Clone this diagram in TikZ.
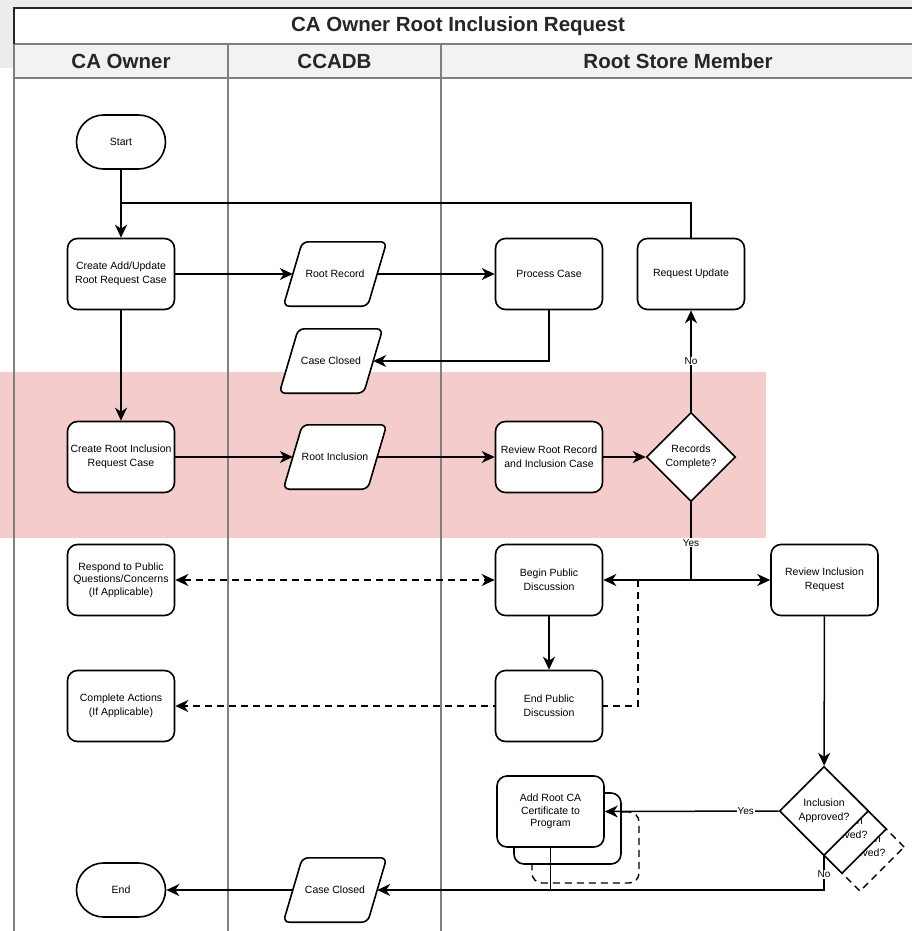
\documentclass[tikz,border=0pt]{standalone}
\usepackage{fontspec}
\setmainfont{Liberation Sans}
\usetikzlibrary{arrows.meta,shapes.geometric,calc}
\pgfdeclarelayer{bg}
\pgfsetlayers{bg,main}
\definecolor{pinkband}{HTML}{F4CCCC}
\definecolor{lanegrey}{HTML}{7F7F7F}
\definecolor{hdrgrey}{HTML}{F2F2F2}
\definecolor{shotgrey}{HTML}{ECECEC}
\newcommand\nodefont{\fontsize{10.5}{14.3}\selectfont}
\newcommand\tightfont{\fontsize{10.5}{12.7}\selectfont}
\newcommand\labfont{\fontsize{10}{11}\selectfont}
\newcommand\hdrfont{\fontsize{20.5}{23}\selectfont\bfseries}
% rounded parallelogram drawn around a named (invisible) node
\newcommand\ioshape[1]{%
  \draw[line width=1.6pt, rounded corners=6pt, fill=white]
    ($(#1.south west)+(-9.5,0)$) -- ($(#1.north west)+(9.5,0)$) --
    ($(#1.north east)+(9.5,0)$) -- ($(#1.south east)+(-9.5,0)$) -- cycle;}
\begin{document}
\begin{tikzpicture}[x=1pt,y=-1pt,
  box/.style={draw, line width=1.6pt, rounded corners=10pt, fill=white,
    minimum width=107pt, minimum height=71pt, align=center, font=\nodefont, inner sep=1pt},
  tight/.style={font=\tightfont},
  term/.style={draw, line width=1.6pt, rounded corners=27pt, fill=white,
    minimum width=89pt, minimum height=54pt, font=\nodefont},
  dia/.style={draw, line width=1.6pt, diamond, aspect=1, fill=white,
    minimum width=89pt, minimum height=89pt, inner sep=0pt, align=center, font=\nodefont},
  io/.style={minimum width=84pt, minimum height=64pt, inner sep=0pt, font=\nodefont},
  conn/.style={line width=1.5pt, -{Stealth[length=13pt,width=12pt,inset=4pt]}},
  plain/.style={line width=1.5pt},
  dashedconn/.style={line width=1.4pt, dash pattern=on 7pt off 5pt,
    -{Stealth[length=13pt,width=12pt,inset=4pt]}},
  dashedboth/.style={line width=1.4pt, dash pattern=on 7pt off 5pt,
    {Stealth[length=13pt,width=12pt,inset=4pt]}-{Stealth[length=13pt,width=12pt,inset=4pt]}},
  lab/.style={fill=white, font=\labfont, inner sep=1pt},
  lane/.style={draw=lanegrey, line width=1.5pt},
  hdr/.style={font=\hdrfont, text=black!85},
]
\useasboundingbox (0,0) rectangle (912,931);

\begin{pgfonlayer}{bg}
  % screenshot margins
  \fill[shotgrey] (0,0) rectangle (912,8);
  \fill[shotgrey] (0,0) rectangle (14,68);
  % title and header rows
  \fill[white] (14,8) rectangle (930,44);
  \fill[hdrgrey] (14,44) rectangle (930,78);
  % highlight band
  \fill[pinkband] (0,372) rectangle (766,538);
  % lanes
  \draw[lane] (14,44) -- (930,44);
  \draw[lane] (14,78) -- (930,78);
  \draw[lane] (14,44) -- (14,935);
  \draw[lane] (228,44) -- (228,935);
  \draw[lane] (441,44) -- (441,935);
  \draw[line width=1.5pt, black!85] (930,8) -- (14,8) -- (14,44);
\end{pgfonlayer}

% headers
\node[hdr] (title) at (458,26) {CA Owner Root Inclusion Request};
\node[hdr] (h1) at (121,61) {CA Owner};
\node[hdr] (h2) at (334.5,61) {CCADB};
\node[hdr] (h3) at (678,61) {Root Store Member};

% nodes
\node[term] (start) at (121,142) {Start};
\node[box] (cadd) at (121,274) {Create Add/Update\\Root Request Case};
\node[io] (rrec) at (335,274) {Root Record};
\node[box] (proc) at (549,274) {Process Case};
\node[box] (requ) at (691,274) {Request Update};
\node[io] (cc1) at (331,361) {Case Closed};
\node[box] (cincl) at (121,457) {Create Root Inclusion\\Request Case};
\node[io] (rincl) at (335,457) {Root Inclusion};
\node[box] (revrr) at (549,457) {Review Root Record\\and Inclusion Case};
\node[dia] (recc) at (691,457) {Records\\Complete?};
\node[box, tight] (resp) at (121,580) {Respond to Public\\Questions/Concerns\\(If Applicable)};
\node[box] (bpub) at (549,580) {Begin Public\\Discussion};
\node[box] (revinc) at (824.5,580) {Review Inclusion\\Request};
\node[box] (compl) at (121,706) {Complete Actions\\(If Applicable)};
\node[box] (epub) at (549,706) {End Public\\Discussion};

% stacked "Add Root CA" shapes
\node[box, dash pattern=on 7pt off 5pt, line width=1.4pt] (add3) at (585.5,847.5) {};
\node[box] (add2) at (567.5,828.5) {};
\node[box, tight] (add) at (550.5,811.5) {Add Root CA\\Certificate to\\Program};

% stacked decision shapes
\node[dia, dash pattern=on 7pt off 5pt, line width=1.4pt] (incap3) at (860,847) {Inclusion\\Approved?};
\node[dia] (incap2) at (842,829) {Inclusion\\Approved?};
\node[dia] (incap) at (824,811) {Inclusion\\Approved?};

\node[term] (end) at (121,890) {End};
\node[io] (cc2) at (335,890) {Case Closed};

% parallelogram outlines (beneath their texts)
\begin{pgfonlayer}{bg}
  \ioshape{rrec}
  \ioshape{cc1}
  \ioshape{rincl}
  \ioshape{cc2}
\end{pgfonlayer}

% connectors
\coordinate (jtop) at (121,203);
\coordinate (jyes) at (691,580);
\coordinate (jdash) at (638,580);
\draw[conn] (start) -- (cadd);
\draw[plain] (requ.north) |- (jtop);
\draw[conn] (cadd) -- (rrec);
\draw[conn] (rrec) -- (proc);
\draw[conn] (proc.south) |- (cc1.east);
\draw[conn] (cadd) -- (cincl);
\draw[conn] (cincl) -- (rincl);
\draw[conn] (rincl) -- (revrr);
\draw[conn] (revrr) -- (recc);
\draw[conn] (recc) -- node[lab] {No} (requ);
\draw[plain] (recc.south) -- node[lab, pos=0.52] {Yes} (jyes);
\draw[conn] (jyes) -- (bpub.east);
\draw[conn] (jyes) -- (revinc.west);
\draw[dashedboth] (resp.east) -- (bpub.west);
\draw[conn] (bpub) -- (epub);
\begin{pgfonlayer}{bg}
  \draw[dashedconn] (jdash) |- (compl.east);
\end{pgfonlayer}
\draw[conn] (revinc) -- (incap);
\draw[conn] (incap.west) -- node[lab, pos=0.19] {Yes} (add.east);
\draw[conn] (incap.south) |- node[lab, pos=0.27] {No} (cc2.east);
\draw[plain] (add.south) -- (add.south |- cc2.east);
\draw[conn] (cc2) -- (end);
\end{tikzpicture}
\end{document}
